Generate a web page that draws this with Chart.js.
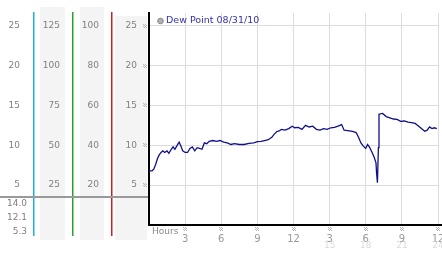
<!DOCTYPE html>
<html lang="en">
<head>
<meta charset="UTF-8">
<title>Dew Point 08/31/10</title>
<script src="https://cdn.jsdelivr.net/npm/chart.js"></script>
<style>
    body { margin: 0; background: #fff; }
    #wrap { position: relative; width: 442px; height: 253px; }
</style>
</head>
<body>
<div id="wrap"><canvas id="dewChart" width="442" height="253"></canvas></div>
<script>
    // hours since midnight and dew point readings
    const hours = [0,0.25,0.4,0.55,0.7,0.85,1.0,1.15,1.3,1.5,1.65,1.85,2.0,2.15,2.3,2.5,2.65,2.8,3.0,3.2,3.4,3.6,3.8,4.0,4.2,4.4,4.6,4.8,5.0,5.3,5.6,5.9,6.2,6.5,6.8,7.1,7.5,7.9,8.3,8.7,9.0,9.3,9.6,9.9,10.2,10.4,10.6,10.8,11.0,11.3,11.6,11.9,12.1,12.4,12.7,13.0,13.3,13.6,13.9,14.2,14.5,14.8,15.1,15.4,15.7,16.0,16.2,16.5,16.9,17.2,17.4,17.6,17.8,18.0,18.15,18.3,18.5,18.7,18.85,18.9,18.97,19.05,19.1,19.4,19.7,20.0,20.3,20.6,20.9,21.2,21.5,21.8,22.1,22.4,22.7,22.9,23.1,23.3,23.5,23.7,23.9];
    const dewPoint = [6.8,6.8,7.0,7.6,8.3,8.8,9.1,9.3,9.1,9.3,9.0,9.5,9.8,9.5,9.9,10.4,9.9,9.3,9.1,9.1,9.6,9.8,9.3,9.7,9.6,9.5,10.3,10.2,10.5,10.6,10.5,10.6,10.4,10.3,10.1,10.2,10.1,10.1,10.25,10.3,10.45,10.5,10.6,10.7,11.0,11.4,11.7,11.8,12.0,11.9,12.1,12.4,12.2,12.25,12.0,12.5,12.3,12.4,12.0,11.9,12.1,12.0,12.2,12.25,12.4,12.6,11.9,11.85,11.75,11.6,11.0,10.3,9.9,9.6,10.1,9.8,9.2,8.5,7.8,6.5,5.3,9.7,13.9,14.0,13.6,13.45,13.3,13.25,13.0,13.05,12.9,12.85,12.75,12.4,12.0,11.75,11.9,12.3,12.1,12.2,12.1];

    const yTicks = [5, 10, 15, 20, 25];
    const xTicks = [3, 6, 9, 12, 15, 18, 21, 24];
    const xLabels = ['3', '6', '9', '12', '3', '6', '9', '12'];
    const xLabels24 = ['', '', '', '', '15', '18', '21', '24'];

    // side columns: unit scales for the same gridlines
    const col1Labels = ['5', '10', '15', '20', '25'];
    const col2Labels = ['25', '50', '75', '100', '125'];
    const col3Labels = ['20', '40', '60', '80', '100'];
    const col4Labels = ['5', '10', '15', '20', '25'];
    const statLabels = ['14.0', '12.1', '5.3'];

    const legendText = 'Dew Point 08/31/10';
    const FONT = '"DejaVu Sans", sans-serif';

    // tiny checkered tick mark
    function mark(ctx, cx, cy) {
        ctx.fillStyle = '#b8b8b8';
        for (let i = 0; i < 4; i++) {
            for (let j = 0; j < 4; j++) {
                if ((i + j) % 2 === 0) ctx.fillRect(cx - 2 + i, cy - 2 + j, 1, 1);
            }
        }
    }

    const sidePanel = {
        id: 'sidePanel',
        beforeDraw(chart) {
            const ctx = chart.ctx;
            const y = chart.scales.y;
            ctx.save();
            // gray bands
            ctx.fillStyle = '#f4f4f4';
            ctx.fillRect(40, 7, 25, 233);
            ctx.fillRect(80, 7, 24, 233);
            ctx.fillRect(115, 16, 32, 224);
            // colored dividers
            const lines = [[33, '#20b0e0'], [72, '#2e9e2e'], [111, '#c82020']];
            lines.forEach(([x, c]) => {
                ctx.fillStyle = c;
                ctx.fillRect(x, 12, 1.5, 224);
            });
            // labels
            ctx.font = '9px ' + FONT;
            ctx.fillStyle = '#808080';
            ctx.textAlign = 'right';
            ctx.textBaseline = 'middle';
            yTicks.forEach((v, i) => {
                const py = y.getPixelForValue(v);
                ctx.fillText(col1Labels[i], 20, py);
                ctx.fillText(col2Labels[i], 60, py);
                ctx.fillText(col3Labels[i], 99, py);
                ctx.fillText(col4Labels[i], 137, py);
            });
            // separator
            ctx.fillStyle = '#999';
            ctx.fillRect(0, 196, 149, 2);
            // stats
            ctx.fillStyle = '#808080';
            statLabels.forEach((s, i) => ctx.fillText(s, 27, 204 + i * 14));
            ctx.restore();
        },
        afterDraw(chart) {
            const ctx = chart.ctx;
            const x = chart.scales.x;
            const y = chart.scales.y;
            const area = chart.chartArea;
            ctx.save();
            // bottom axis runs to the edge
            ctx.fillStyle = '#000';
            ctx.fillRect(area.right, area.bottom - 1, chart.width - area.right, 2);
            // tick marks
            yTicks.forEach(v => mark(ctx, 145, Math.round(y.getPixelForValue(v))));
            xTicks.forEach(v => mark(ctx, Math.round(x.getPixelForValue(v)), 229));
            // legend
            ctx.fillStyle = '#b0b0b0';
            ctx.strokeStyle = '#888';
            ctx.lineWidth = 1;
            ctx.beginPath();
            ctx.arc(160.5, 21, 2.8, 0, Math.PI * 2);
            ctx.fill();
            ctx.stroke();
            ctx.font = '9.5px ' + FONT;
            ctx.fillStyle = '#3333aa';
            ctx.textAlign = 'left';
            ctx.textBaseline = 'middle';
            ctx.fillText(legendText, 166, 21);
            // axis caption
            ctx.font = '9px ' + FONT;
            ctx.fillStyle = '#888';
            ctx.fillText('Hours', 152, 232);
            // faint 24h labels
            ctx.fillStyle = '#dadada';
            ctx.textAlign = 'center';
            xTicks.forEach((v, i) => {
                if (xLabels24[i]) ctx.fillText(xLabels24[i], x.getPixelForValue(v), 246);
            });
            ctx.restore();
        }
    };

    new Chart(document.getElementById('dewChart'), {
        type: 'line',
        data: {
            datasets: [{
                label: legendText,
                data: hours.map((h, i) => ({ x: h, y: dewPoint[i] })),
                borderColor: '#10108a',
                borderWidth: 1.3,
                pointRadius: 0,
                tension: 0,
                fill: false
            }]
        },
        options: {
            responsive: false,
            animation: false,
            layout: { padding: { left: 139, top: 13, right: 4, bottom: 0 } },
            plugins: { legend: { display: false }, tooltip: { enabled: false } },
            scales: {
                x: {
                    type: 'linear',
                    min: 0,
                    max: 24,
                    afterBuildTicks: s => { s.ticks = xTicks.map(v => ({ value: v })); },
                    afterFit: s => { s.height = 28; s.paddingLeft = 0; s.paddingRight = 0; },
                    grid: { color: '#dcdcdc', drawTicks: false },
                    border: { color: '#000', width: 2 },
                    ticks: {
                        autoSkip: false,
                        maxRotation: 0,
                        padding: 8,
                        color: '#999',
                        font: { family: FONT, size: 10 },
                        callback: (v, i) => xLabels[i]
                    }
                },
                y: {
                    min: 0,
                    max: 26.6,
                    afterBuildTicks: s => { s.ticks = yTicks.map(v => ({ value: v })); },
                    afterFit: s => { s.width = 10; s.paddingTop = 0; s.paddingBottom = 0; },
                    grid: { color: '#dcdcdc', drawTicks: false },
                    border: { color: '#000', width: 2 },
                    ticks: { display: false }
                }
            }
        },
        plugins: [sidePanel]
    });
</script>
</body>
</html>
